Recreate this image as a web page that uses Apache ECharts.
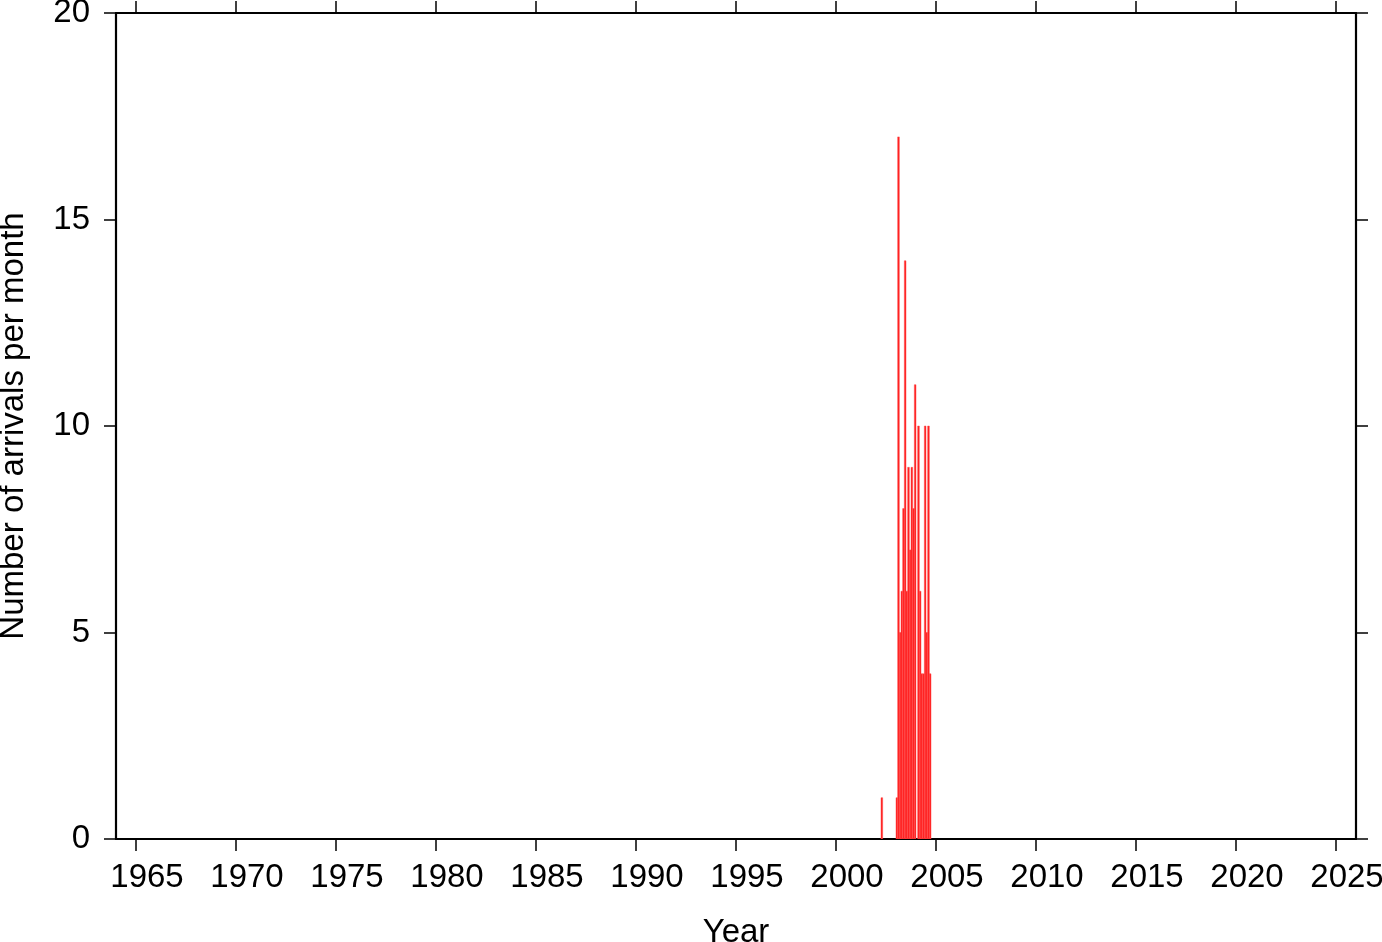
<!DOCTYPE html>
<html>
<head>
<meta charset="utf-8">
<script src="https://cdn.jsdelivr.net/npm/echarts@6/dist/echarts.min.js"></script>
<style>
html,body{margin:0;padding:0;background:#fff;}
#chart{width:1382px;height:942px;}
</style>
</head>
<body>
<div id="chart"></div>
<script>
// Monthly arrival counts (month start "YYYY-MM")
const months = ['2002-04',
  '2003-01','2003-02','2003-03','2003-04','2003-05','2003-06','2003-07','2003-08','2003-09','2003-10','2003-11','2003-12',
  '2004-01','2004-02','2004-03','2004-04','2004-05','2004-06','2004-07','2004-08','2004-09'];
const counts = [1,
  1,17,5,6,8,14,6,9,7,9,8,11,
  0,10,6,4,4,10,5,10,4];
const yearTicks = [1965,1970,1975,1980,1985,1990,1995,2000,2005,2010,2015,2020,2025];

const FONT = 'Liberation Sans, Arial, Helvetica, sans-serif';

const barData = months.map((m, i) => {
  const [y, mo] = m.split('-').map(Number);
  const start = y + (mo - 1) / 12;
  return [start, start + 1 / 12, counts[i]];
});

const chart = echarts.init(document.getElementById('chart'), null, {renderer: 'canvas'});

const axisLineStyle = {color: '#000', width: 2.2};
const tickStyle = {color: '#000', width: 1.5};

chart.setOption({
  animation: false,
  backgroundColor: '#fff',
  grid: {left: 116, right: 26, top: 13, bottom: 103, containLabel: false, outerBoundsMode: 'none'},
  xAxis: [{
    type: 'value', position: 'bottom', min: 1964, max: 2026,
    name: 'Year', nameLocation: 'middle', nameGap: 77,
    nameTextStyle: {fontFamily: FONT, fontSize: 33, color: '#000'},
    axisLine: {show: true, onZero: false, lineStyle: axisLineStyle},
    axisTick: {show: true, inside: false, length: 12, lineStyle: tickStyle, customValues: yearTicks},
    axisLabel: {show: true, fontFamily: FONT, fontSize: 33, color: '#000', margin: 22, customValues: yearTicks,
      padding: [0, 0, 0, 22], hideOverlap: false,
      formatter: v => String(v)},
    splitLine: {show: false}
  }, {
    type: 'value', position: 'top', min: 1964, max: 2026,
    axisLine: {show: true, onZero: false, lineStyle: axisLineStyle},
    axisTick: {show: true, inside: false, length: 12, lineStyle: tickStyle, customValues: yearTicks},
    axisLabel: {show: false},
    splitLine: {show: false}
  }],
  yAxis: [{
    type: 'value', position: 'left', min: 0, max: 20, interval: 5,
    name: 'Number of arrivals per month', nameLocation: 'middle', nameGap: 86, nameRotate: 90,
    nameTextStyle: {fontFamily: FONT, fontSize: 33, color: '#000'},
    axisLine: {show: true, onZero: false, lineStyle: axisLineStyle},
    axisTick: {show: true, inside: false, length: 12, lineStyle: tickStyle},
    axisLabel: {show: true, fontFamily: FONT, fontSize: 33, color: '#000', margin: 26},
    splitLine: {show: false}
  }, {
    type: 'value', position: 'right', min: 0, max: 20, interval: 5,
    axisLine: {show: true, onZero: false, lineStyle: axisLineStyle},
    axisTick: {show: true, inside: false, length: 12, lineStyle: tickStyle},
    axisLabel: {show: false},
    splitLine: {show: false}
  }],
  series: [{
    type: 'custom',
    xAxisIndex: 0, yAxisIndex: 0,
    clip: true,
    encode: {x: [0, 1], y: 2},
    data: barData,
    renderItem: function (params, api) {
      const v = api.value(2);
      if (!v) return null;
      const p0 = api.coord([api.value(0), v]);
      const p1 = api.coord([api.value(1), 0]);
      return {
        type: 'rect',
        shape: {x: p0[0], y: p0[1], width: p1[0] - p0[0], height: p1[1] - p0[1]},
        style: {fill: '#ff1a1a', stroke: '#ff5050', lineWidth: 0.5}
      };
    }
  }]
});
</script>
</body>
</html>
